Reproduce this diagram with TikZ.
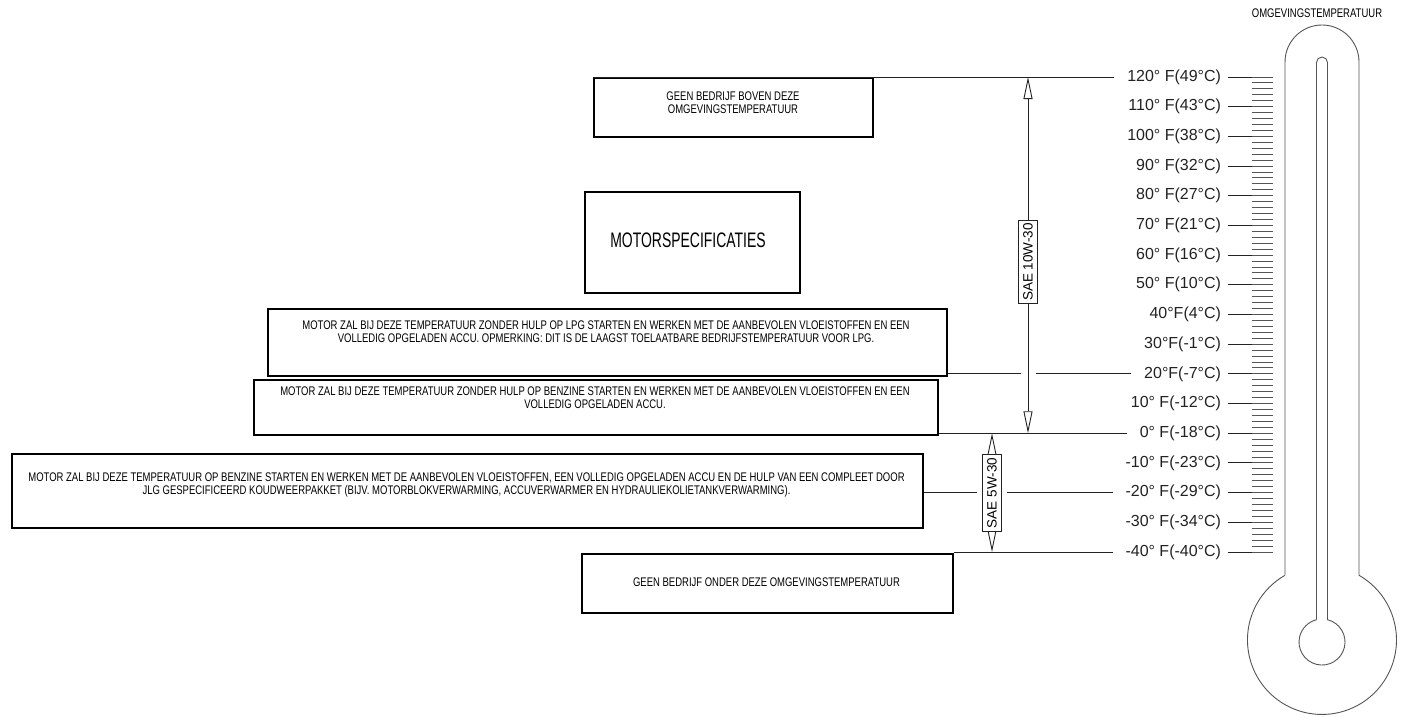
\documentclass[tikz,border=0pt]{standalone}
\usepackage{fontspec}
\setmainfont{Liberation Sans}
\newfontfamily\condfont[FakeStretch=0.76]{Liberation Sans}
\newfontfamily\condtitle[FakeStretch=0.665]{Liberation Sans}
\usetikzlibrary{arrows.meta}
\definecolor{inkgray}{HTML}{222222}
\definecolor{tubegray}{HTML}{555555}

\begin{document}
\begin{tikzpicture}[x=1pt,y=-1pt,
  box/.style={draw=black, line width=1.6pt, inner sep=0pt, anchor=north west},
  boxtext/.style={align=center, inner sep=0pt, font=\fontsize{12.5}{13}\condfont},
  lead/.style={draw=inkgray, line width=0.9pt},
  minortick/.style={draw=tubegray, line width=0.9pt},
  templbl/.style={anchor=east, inner sep=0pt, outer xsep=7pt, font=\fontsize{16}{18}\selectfont, text=inkgray},
  sae/.style={draw=inkgray, line width=0.9pt, {Triangle[open, length=22pt, width=9pt]}-{Triangle[open, length=22pt, width=9pt]}},
  saelbl/.style={draw=inkgray, line width=0.9pt, fill=white, rotate=90, inner xsep=3pt, inner ysep=5pt, font=\fontsize{13.5}{15}\selectfont}]
  \useasboundingbox (0,0) rectangle (1403,717);

  % scale labels and main ticks
  \foreach \n/\txt [count=\i from 0] in {t120/{120° F(49°C)}, t110/{110° F(43°C)}, t100/{100° F(38°C)},
      t90/{90° F(32°C)}, t80/{80° F(27°C)}, t70/{70° F(21°C)}, t60/{60° F(16°C)}, t50/{50° F(10°C)},
      t40/{40°F(4°C)}, t30/{30°F(-1°C)}, t20/{20°F(-7°C)}, t10/{10° F(-12°C)}, t0/{0° F(-18°C)},
      tm10/{-10° F(-23°C)}, tm20/{-20° F(-29°C)}, tm30/{-30° F(-34°C)}, tm40/{-40° F(-40°C)}}{
    \pgfmathsetmacro\yy{77+\i*29.6875}
    \node[templbl] (\n) at (1228,\yy) {\txt};
    \draw[lead] (\n.east) -- (1273,\yy);
  }
  \foreach \k in {0,...,80}
    \draw[minortick] (1252,{77+\k*5.9375}) -- (1273,{77+\k*5.9375});

  % thermometer
  \node[boxtext] (title) at (1317,13) {OMGEVINGSTEMPERATUUR};
  \draw[tubegray, line width=0.9pt] (1285,575.3) -- (1285,62) arc (180:360:37) -- (1359,575.3)
    arc (-60.2:239.8:74.5);
  \draw[tubegray, line width=0.9pt] (1316.5,619.7) -- (1316.5,62.5) arc (180:360:5.5) -- (1327.5,619.7)
    arc (-76.2:256.2:23);

  % text boxes
  \node[box, minimum width=279pt, minimum height=59pt] (above) at (593,77) {};
  \node[boxtext] at (733,103) {GEEN BEDRIJF BOVEN DEZE\\OMGEVINGSTEMPERATUUR};
  \node[box, minimum width=215pt, minimum height=101pt] (spec) at (584,191) {};
  \node[boxtext, font=\fontsize{21}{24}\condtitle] at (688,240) {MOTORSPECIFICATIES};
  \node[box, minimum width=679pt, minimum height=67pt] (lpg) at (267,308) {};
  \node[boxtext] at (606,331.5) {MOTOR ZAL BIJ DEZE TEMPERATUUR ZONDER HULP OP LPG STARTEN EN WERKEN MET DE AANBEVOLEN VLOEISTOFFEN EN EEN\\VOLLEDIG OPGELADEN ACCU. OPMERKING: DIT IS DE LAAGST TOELAATBARE BEDRIJFSTEMPERATUUR VOOR LPG.};
  \node[box, minimum width=684pt, minimum height=55pt] (benz) at (253,379) {};
  \node[boxtext] at (595,397.5) {MOTOR ZAL BIJ DEZE TEMPERATUUR ZONDER HULP OP BENZINE STARTEN EN WERKEN MET DE AANBEVOLEN VLOEISTOFFEN EN EEN\\VOLLEDIG OPGELADEN ACCU.};
  \node[box, minimum width=911pt, minimum height=74pt] (cold) at (11,453) {};
  \node[boxtext] at (466.5,484.5) {MOTOR ZAL BIJ DEZE TEMPERATUUR OP BENZINE STARTEN EN WERKEN MET DE AANBEVOLEN VLOEISTOFFEN, EEN VOLLEDIG OPGELADEN ACCU EN DE HULP VAN EEN COMPLEET DOOR\\JLG GESPECIFICEERD KOUDWEERPAKKET (BIJV. MOTORBLOKVERWARMING, ACCUVERWARMER EN HYDRAULIEKOLIETANKVERWARMING).};
  \node[box, minimum width=371pt, minimum height=59pt] (below) at (581,553) {};
  \node[boxtext] at (766.5,582.5) {GEEN BEDRIJF ONDER DEZE OMGEVINGSTEMPERATUUR};

  % oil grades
  \coordinate (top10) at (1028,77);
  \coordinate (bot10) at (1028,433.25);
  \coordinate (top5) at (992,433.25);
  \coordinate (bot5) at (992,552);
  \draw[sae] (top10) -- (bot10);
  \node[saelbl] (sae10) at (1028,262) {SAE 10W-30};
  \draw[sae] (top5) -- (bot5);
  \node[saelbl] (sae5) at (992,493) {SAE 5W-30};

  % leader lines
  \draw[lead] (above.north west |- t120) -- ([xshift=-6pt]t120.west);
  \draw[lead] (lpg.south east |- t20) -- ([xshift=-7pt]top10 |- t20);
  \draw[lead] ([xshift=8pt]top10 |- t20) -- ([xshift=-6pt]t20.west);
  \draw[lead] (benz.south east |- t0) -- ([xshift=-6pt]t0.west);
  \draw[lead] (cold.east |- tm20) -- ([xshift=-15pt]sae5.center |- tm20);
  \draw[lead] ([xshift=15pt]sae5.center |- tm20) -- ([xshift=-6pt]tm20.west);
  \draw[lead] (below.north east |- tm40) -- ([xshift=-6pt]tm40.west);
\end{tikzpicture}
\end{document}
